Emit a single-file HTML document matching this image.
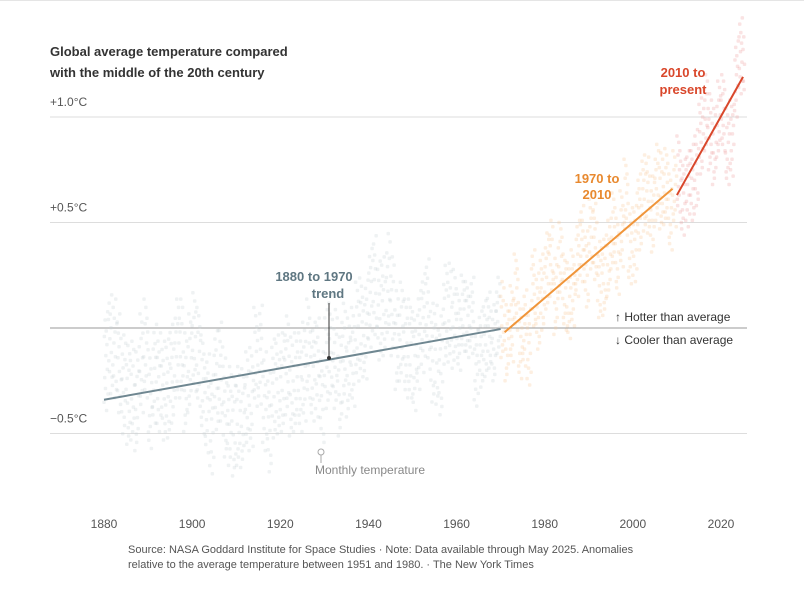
<!DOCTYPE html>
<html><head><meta charset="utf-8"><style>
body{margin:0;background:#fff;font-family:"Liberation Sans",sans-serif;}
svg text{font-family:"Liberation Sans",sans-serif;}
</style></head><body>
<svg id="chart" width="804" height="586" viewBox="0 0 804 586">
<line x1="0" y1="0.5" x2="804" y2="0.5" stroke="#e5e5e5"/>
<text x="50" y="56" font-size="13" font-weight="bold" fill="#333">Global average temperature compared</text>
<text x="50" y="77" font-size="13" font-weight="bold" fill="#333">with the middle of the 20th century</text>
<g id="grid"></g><g id="dots"></g><g id="lines"></g><g id="labels"></g>
<text x="615" y="321" font-size="12" fill="#333">↑ Hotter than average</text>
<text x="615" y="344" font-size="12" fill="#333">↓ Cooler than average</text>
<text x="314" y="281" font-size="13" font-weight="bold" fill="#5f7782" text-anchor="middle">1880 to 1970</text>
<text x="328" y="298" font-size="13" font-weight="bold" fill="#5f7782" text-anchor="middle">trend</text>
<text x="597" y="183" font-size="13" font-weight="bold" fill="#e8892f" text-anchor="middle">1970 to</text>
<text x="597" y="199" font-size="13" font-weight="bold" fill="#e8892f" text-anchor="middle">2010</text>
<text x="683" y="77" font-size="13" font-weight="bold" fill="#d9472b" text-anchor="middle">2010 to</text>
<text x="683" y="94" font-size="13" font-weight="bold" fill="#d9472b" text-anchor="middle">present</text>
<line x1="321" y1="455" x2="321" y2="463" stroke="#aaa"/>
<circle cx="321" cy="452" r="3" fill="#fff" stroke="#aaa"/>
<text x="315" y="474" font-size="12" fill="#888">Monthly temperature</text>
<text x="128" y="553" font-size="11" fill="#555">Source: NASA Goddard Institute for Space Studies  ·  Note: Data available through May 2025. Anomalies</text>
<text x="128" y="568" font-size="11" fill="#555">relative to the average temperature between 1951 and 1980.  ·  The New York Times</text>
</svg>
<script>
const years=[];for(let y=1880;y<=2025;y++)years.push(y);
const annual=[-0.17,-0.09,-0.11,-0.18,-0.28,-0.33,-0.31,-0.36,-0.18,-0.11,-0.35,-0.23,-0.27,-0.31,-0.30,-0.23,-0.11,-0.11,-0.27,-0.18,-0.08,-0.15,-0.28,-0.37,-0.47,-0.26,-0.22,-0.39,-0.43,-0.48,-0.43,-0.44,-0.36,-0.34,-0.15,-0.14,-0.36,-0.46,-0.30,-0.28,-0.27,-0.19,-0.29,-0.27,-0.27,-0.22,-0.11,-0.22,-0.20,-0.36,-0.16,-0.09,-0.16,-0.29,-0.13,-0.20,-0.15,-0.03,-0.01,-0.02,0.13,0.19,0.07,0.09,0.20,0.09,-0.07,-0.03,-0.11,-0.11,-0.17,-0.07,0.01,0.08,-0.13,-0.14,-0.19,0.05,0.06,0.03,-0.03,0.06,0.03,0.05,-0.20,-0.11,-0.06,-0.02,-0.08,0.05,0.03,-0.08,0.01,0.16,-0.07,-0.01,-0.10,0.18,0.07,0.16,0.26,0.32,0.14,0.31,0.16,0.12,0.18,0.32,0.39,0.27,0.45,0.40,0.22,0.23,0.32,0.45,0.33,0.46,0.61,0.38,0.39,0.54,0.63,0.62,0.53,0.68,0.64,0.66,0.54,0.65,0.72,0.61,0.65,0.68,0.75,0.90,1.01,0.92,0.85,0.98,1.01,0.85,0.89,1.17,1.28,1.22];
const monthOffsets=[-0.14,0.10,-0.05,0.16,-0.09,0.03,0.12,-0.17,0.07,-0.02,0.19,-0.11];
const yTicks=[1.0,0.5,0,-0.5];
const yTickLabels=["+1.0°C","+0.5°C","","−0.5°C"];
const xTicks=[1880,1900,1920,1940,1960,1980,2000,2020];
const trendStart=[1880,1970,2010];const trendEnd=[1970,2009,2025];
const trendStartVal=[-0.34,-0.02,0.63];const trendEndVal=[-0.005,0.66,1.19];
const trendColors=["#6f8791","#f0953a","#d9472b"];
const X=y=>104+(y-1880)*617/140;
const Y=v=>328-v*211;
const NS="http://www.w3.org/2000/svg";
function mk(p,t,a){const e=document.createElementNS(NS,t);for(const k in a)e.setAttribute(k,a[k]);document.getElementById(p).appendChild(e);return e;}
yTicks.forEach((v,i)=>{
 const l=mk('grid','line',{x1:50,x2:747,y1:Y(v),y2:Y(v),stroke:v===0?'#999':'#ddd'});
 
 
 if(yTickLabels[i]){const t=mk('grid','text',{x:50,y:Y(v)-11,'font-size':12,fill:'#555'});t.textContent=yTickLabels[i];
 
 }
});
xTicks.forEach(y=>{const t=mk('grid','text',{x:X(y),y:528,'font-size':12,fill:'#555','text-anchor':'middle'});t.textContent=y;
 
 });
years.forEach((yr,i)=>{
 const n=yr===2025?5:12;
 const col=yr<1970?'#c5cfd3':yr<2010?'#f7c592':'#ee9a9a';
 for(let m=0;m<n;m++){
  const sc=yr<1960?1.3:1;
  const v=annual[i]+monthOffsets[(m+i)%12]*sc;
  const r=mk('dots','rect',{x:X(yr+m/12)-1.75,y:Y(v)-1.75,width:3.5,height:3.5,rx:1,fill:col,opacity:0.28});
  
  
 }
});
trendStart.forEach((s,i)=>{
 const l=mk('lines','line',{x1:X(s)+(i==1?4:0),y1:Y(trendStartVal[i]),x2:X(trendEnd[i]),y2:Y(trendEndVal[i]),stroke:trendColors[i],'stroke-width':2});
 
 
});
const a=mk('lines','line',{x1:329,y1:303,x2:329,y2:358,stroke:'#333'});


const d=mk('lines','circle',{cx:329,cy:358,r:2,fill:'#333'});


</script>
</body></html>
